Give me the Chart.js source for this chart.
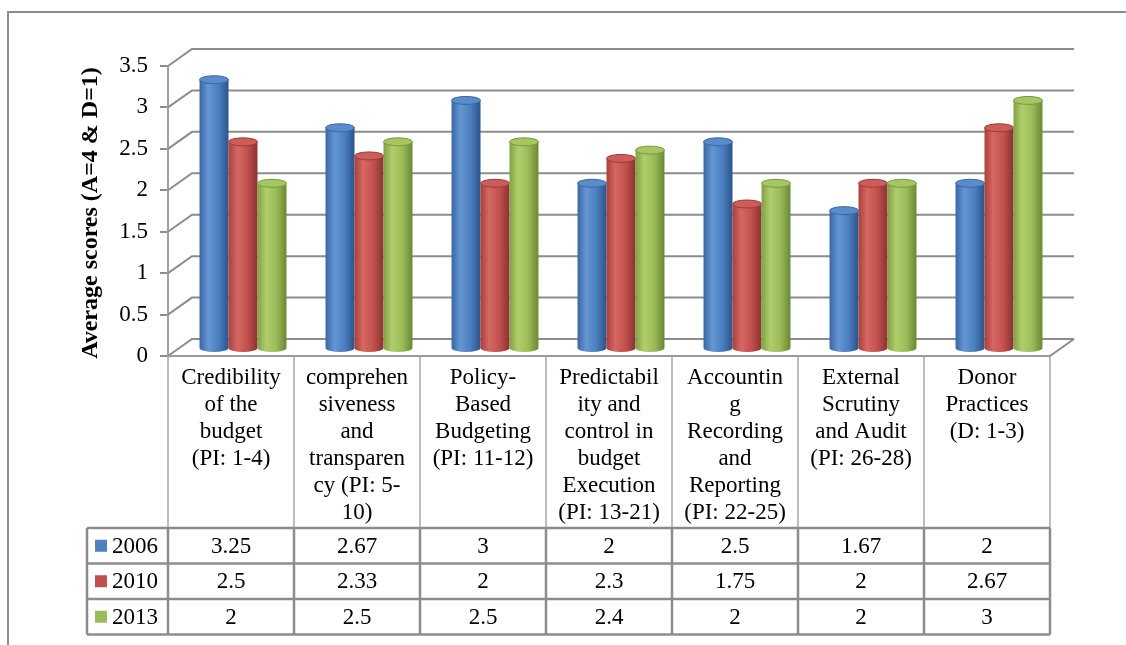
<!DOCTYPE html>
<html>
<head>
<meta charset="utf-8">
<script src="https://cdn.jsdelivr.net/npm/chart.js@4/dist/chart.umd.min.js"></script>
<style>
  html, body { margin: 0; padding: 0; background: #ffffff; }
  #wrap { width: 1126px; height: 645px; }
</style>
</head>
<body>
<div id="wrap"><canvas id="c" width="1126" height="645"></canvas></div>
<script>
// ---- Data ----
const categories = [
  ["Credibility", "of the", "budget", "(PI: 1-4)"],
  ["comprehen", "siveness", "and", "transparen", "cy (PI: 5-", "10)"],
  ["Policy-", "Based", "Budgeting", "(PI: 11-12)"],
  ["Predictabil", "ity and", "control in", "budget", "Execution", "(PI: 13-21)"],
  ["Accountin", "g", "Recording", "and", "Reporting", "(PI: 22-25)"],
  ["External", "Scrutiny", "and Audit", "(PI: 26-28)"],
  ["Donor", "Practices", "(D: 1-3)"]
];
const seriesNames = ["2006", "2010", "2013"];
const values2006 = [3.25, 2.67, 3, 2, 2.5, 1.67, 2];
const values2010 = [2.5, 2.33, 2, 2.3, 1.75, 2, 2.67];
const values2013 = [2, 2.5, 2.5, 2.4, 2, 2, 3];
const seriesColors = ["#4F81BD", "#C0504D", "#9BBB59"];
const yTitle = "Average scores (A=4 & D=1)";
const yMin = 0, yMax = 3.5, yStep = 0.5;

// ---- Styling ----
const SERIF = "'Liberation Serif', 'Times New Roman', serif";
const shades = [
  { l: "#3a67a2", hi: "#6595d4", m: "#4b7fc0", r: "#2b5489", cap: "#5a8bcb", capEdge: "#3a679f" },
  { l: "#a8403d", hi: "#d76763", m: "#c2514e", r: "#8a3230", cap: "#cd5d59", capEdge: "#9a3b38" },
  { l: "#819f45", hi: "#b0cf6c", m: "#9bbb59", r: "#6a8834", cap: "#a6c563", capEdge: "#789a3e" }
];
const DEPTH_X = 24, DEPTH_Y = -17;   // back wall offset
const BAR_X = 12, BAR_Y = -7;        // bar row offset (mid depth)
const HEADER_H = 172, ROW_H = 35.5, LEGEND_LEFT = 87;

function drawCylinder(ctx, cx, top, bottom, w, s) {
  const rx = w / 2, ry = 4;
  const g = ctx.createLinearGradient(cx - rx, 0, cx + rx, 0);
  g.addColorStop(0, s.l);
  g.addColorStop(0.3, s.hi);
  g.addColorStop(0.65, s.m);
  g.addColorStop(1, s.r);
  ctx.beginPath();
  ctx.moveTo(cx - rx, top);
  ctx.lineTo(cx - rx, bottom);
  ctx.ellipse(cx, bottom, rx, ry, 0, Math.PI, 0, true);
  ctx.lineTo(cx + rx, top);
  ctx.closePath();
  ctx.fillStyle = g;
  ctx.fill();
  ctx.beginPath();
  ctx.ellipse(cx, top, rx, ry, 0, 0, Math.PI * 2);
  ctx.fillStyle = s.cap;
  ctx.fill();
  ctx.lineWidth = 1;
  ctx.strokeStyle = s.capEdge;
  ctx.stroke();
}

const chart3d = {
  id: "chart3d",
  beforeDraw(chart) {
    const ctx = chart.ctx;
    ctx.save();
    ctx.fillStyle = "#ffffff";
    ctx.fillRect(0, 0, chart.width, chart.height);
    ctx.strokeStyle = "#8c8c8c";
    ctx.lineWidth = 2;
    ctx.beginPath();
    ctx.moveTo(8, chart.height + 4);
    ctx.lineTo(8, 12);
    ctx.lineTo(chart.width + 4, 12);
    ctx.stroke();
    ctx.restore();
  },
  beforeDatasetsDraw(chart) {
    const { ctx, chartArea: a, scales: { x, y } } = chart;
    ctx.save();
    ctx.strokeStyle = "#8c8c8c";
    ctx.lineWidth = 2;
    y.ticks.forEach(t => {
      const py = y.getPixelForValue(t.value);
      ctx.beginPath();
      ctx.moveTo(a.left, py);
      ctx.lineTo(a.left + DEPTH_X, py + DEPTH_Y);
      ctx.lineTo(a.right + DEPTH_X, py + DEPTH_Y);
      ctx.stroke();
    });
    ctx.beginPath();
    ctx.moveTo(a.right, a.bottom);
    ctx.lineTo(a.right + DEPTH_X, a.bottom + DEPTH_Y);
    ctx.stroke();

    // y axis title
    ctx.save();
    ctx.translate(91, (a.top + a.bottom) / 2 + 2);
    ctx.rotate(-Math.PI / 2);
    ctx.font = "bold 24px " + SERIF;
    ctx.fillStyle = "#000";
    ctx.textAlign = "center";
    ctx.textBaseline = "middle";
    ctx.fillText(yTitle, 0, 0);
    ctx.restore();

    // data table
    const n = chart.data.labels.length;
    const colW = (x.right - x.left) / n;
    const hTop = a.bottom, hBot = a.bottom + HEADER_H;
    ctx.strokeStyle = "#a6a6a6";
    ctx.lineWidth = 1.5;
    for (let i = 0; i <= n; i++) {
      const ex = x.getPixelForValue(0) - colW / 2 + i * colW;
      ctx.beginPath();
      ctx.moveTo(ex, hTop);
      ctx.lineTo(ex, hBot);
      ctx.stroke();
    }
    ctx.fillStyle = "#000";
    ctx.font = "23px " + SERIF;
    ctx.textAlign = "center";
    ctx.textBaseline = "middle";
    chart.data.labels.forEach((lines, i) => {
      const cx = x.getPixelForValue(i);
      lines.forEach((ln, k) => ctx.fillText(ln, cx, hTop + 22 + k * 27));
    });
    const datasets = chart.data.datasets;
    ctx.strokeStyle = "#8c8c8c";
    ctx.lineWidth = 2.5;
    for (let r = 0; r <= datasets.length; r++) {
      const ry = hBot + r * ROW_H;
      ctx.beginPath();
      ctx.moveTo(LEGEND_LEFT, ry);
      ctx.lineTo(x.right, ry);
      ctx.stroke();
    }
    const tBot = hBot + datasets.length * ROW_H;
    const vx = [LEGEND_LEFT];
    for (let i = 0; i <= n; i++) vx.push(x.left + i * colW);
    vx.forEach(ex => {
      ctx.beginPath();
      ctx.moveTo(ex, hBot);
      ctx.lineTo(ex, tBot);
      ctx.stroke();
    });
    ctx.strokeStyle = "#9a9a9a";
    ctx.lineWidth = 2;
    ctx.beginPath();
    ctx.moveTo(a.left, a.bottom);
    ctx.lineTo(a.right, a.bottom);
    ctx.stroke();

    datasets.forEach((ds, r) => {
      const cy = hBot + r * ROW_H + ROW_H / 2;
      ctx.fillStyle = ds.backgroundColor;
      ctx.fillRect(95, cy - 6, 12, 12);
      ctx.fillStyle = "#000";
      ctx.textAlign = "left";
      ctx.fillText(ds.label, 112, cy + 1);
      ctx.textAlign = "center";
      ds.data.forEach((v, i) => {
        ctx.fillText(String(v), x.getPixelForValue(i), cy + 1);
      });
    });
    ctx.restore();
  },
  beforeDatasetDraw() {
    return false;
  },
  afterDatasetsDraw(chart) {
    const ctx = chart.ctx;
    ctx.save();
    chart.data.datasets.forEach((ds, di) => {
      const meta = chart.getDatasetMeta(di);
      meta.data.forEach(bar => {
        const p = bar.getProps(["x", "y", "base", "width"], true);
        drawCylinder(ctx, p.x + BAR_X, p.y + BAR_Y, p.base + BAR_Y, p.width, shades[di]);
      });
    });
    ctx.restore();
  }
};

new Chart(document.getElementById("c"), {
  type: "bar",
  data: {
    labels: categories,
    datasets: [
      { label: seriesNames[0], data: values2006, backgroundColor: seriesColors[0] },
      { label: seriesNames[1], data: values2010, backgroundColor: seriesColors[1] },
      { label: seriesNames[2], data: values2013, backgroundColor: seriesColors[2] }
    ]
  },
  options: {
    responsive: false,
    animation: false,
    devicePixelRatio: 1,
    datasets: { bar: { categoryPercentage: 0.69, barPercentage: 1.0 } },
    layout: { padding: { top: 66, bottom: 289, left: 0, right: 76 } },
    plugins: { legend: { display: false }, tooltip: { enabled: false }, title: { display: false } },
    scales: {
      x: { display: false, grid: { display: false } },
      y: {
        min: yMin, max: yMax,
        afterFit(s) { s.width = 168; },
        ticks: {
          stepSize: yStep, color: "#000", font: { family: SERIF, size: 23 }, padding: 12,
          callback: v => String(Math.round(v * 10) / 10)
        },
        grid: { drawOnChartArea: false, drawTicks: true, tickLength: 8, color: "#8c8c8c", lineWidth: 2 },
        border: { display: true, color: "#a0a0a0", width: 2 }
      }
    }
  },
  plugins: [chart3d]
});
</script>
</body>
</html>
